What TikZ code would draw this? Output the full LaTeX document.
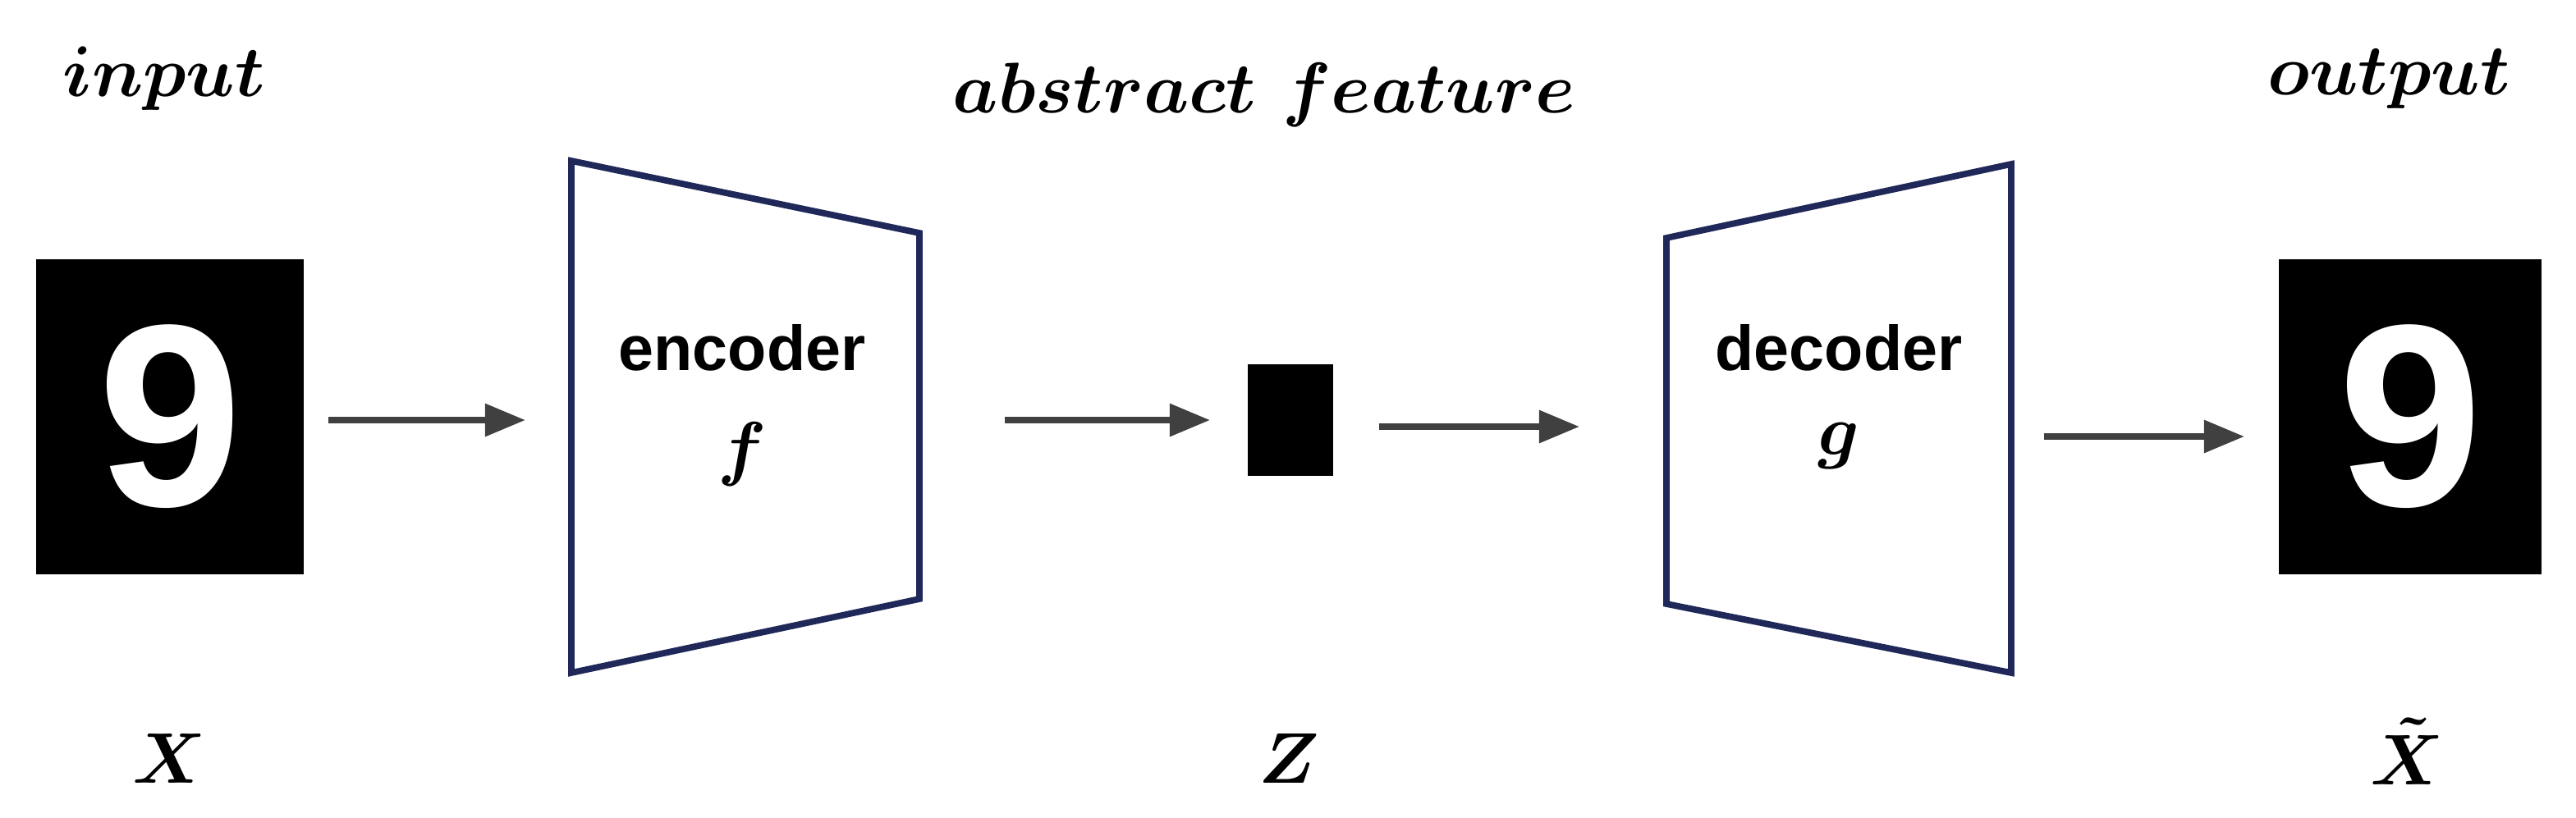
\documentclass[tikz,border=0pt]{standalone}
\usepackage{amsmath,bm}
\usepackage{fontspec}
\setsansfont{Liberation Sans}
\usetikzlibrary{arrows.meta}
\definecolor{navy}{HTML}{1F2858}
\definecolor{arr}{HTML}{404040}
\begin{document}
\begin{tikzpicture}[x=0.02cm,y=-0.02cm,
  box/.style={fill=black,draw=none},
  trap/.style={draw=navy,line width=2.2pt,line join=miter},
  conn/.style={draw=arr,line width=2.2pt,-{Triangle[length=14pt,width=11pt]}},
  lab/.style={font=\fontsize{31}{33}\selectfont\boldmath},
  var/.style={font=\fontsize{36}{38}\selectfont\boldmath},
  blk/.style={font=\sffamily\bfseries\fontsize{22}{24}\selectfont},
  nine/.style={text=white,font=\sffamily\bfseries\fontsize{90}{92}\selectfont}]
\useasboundingbox (0,0) rectangle (1569,498);
% input
\fill[box] (22,158) rectangle (185,350);
\node[nine] (in) at (103.5,254) {9};
\coordinate (inR) at (200,256);
\coordinate (encL) at (320,256);
\draw[conn] (inR) -- (encL);
% encoder
\draw[trap] (348,98) -- (560,142) -- (560,365) -- (348,410) -- cycle;
\node[blk] (enc) at (452,212) {encoder};
\node[var,font=\fontsize{30}{32}\selectfont\boldmath] (f) at (452,277) {$f$};
\coordinate (encR) at (612,256);
\coordinate (zL) at (737,256);
\draw[conn] (encR) -- (zL);
% z
\fill[box] (760,222) rectangle (812,290);
\coordinate (zR) at (840,260);
\coordinate (decL) at (962,260);
\draw[conn] (zR) -- (decL);
% decoder
\draw[trap] (1015,145) -- (1225,100) -- (1225,410) -- (1015,368) -- cycle;
\node[blk] (dec) at (1120,212) {decoder};
\node[var,font=\fontsize{30}{32}\selectfont\boldmath] (g) at (1120,272) {$g$};
\coordinate (decR) at (1245,266);
\coordinate (outL) at (1367,266);
\draw[conn] (decR) -- (outL);
% output
\fill[box] (1388,158) rectangle (1548,350);
\node[nine] (out) at (1468,254) {9};
% labels
\node[lab] (tin) at (100,48) {$input$};
\node[lab] (tabs) at (770,58) {$abstract\ feature$};
\node[lab] (tout) at (1455,48) {$output$};
\node[var] (X) at (103,462) {$\bm{X}$};
\node[var] (Z) at (785,462) {$\bm{Z}$};
\node[var] (Xt) at (1466,458) {$\tilde{\bm{X}}$};
\end{tikzpicture}
\end{document}
